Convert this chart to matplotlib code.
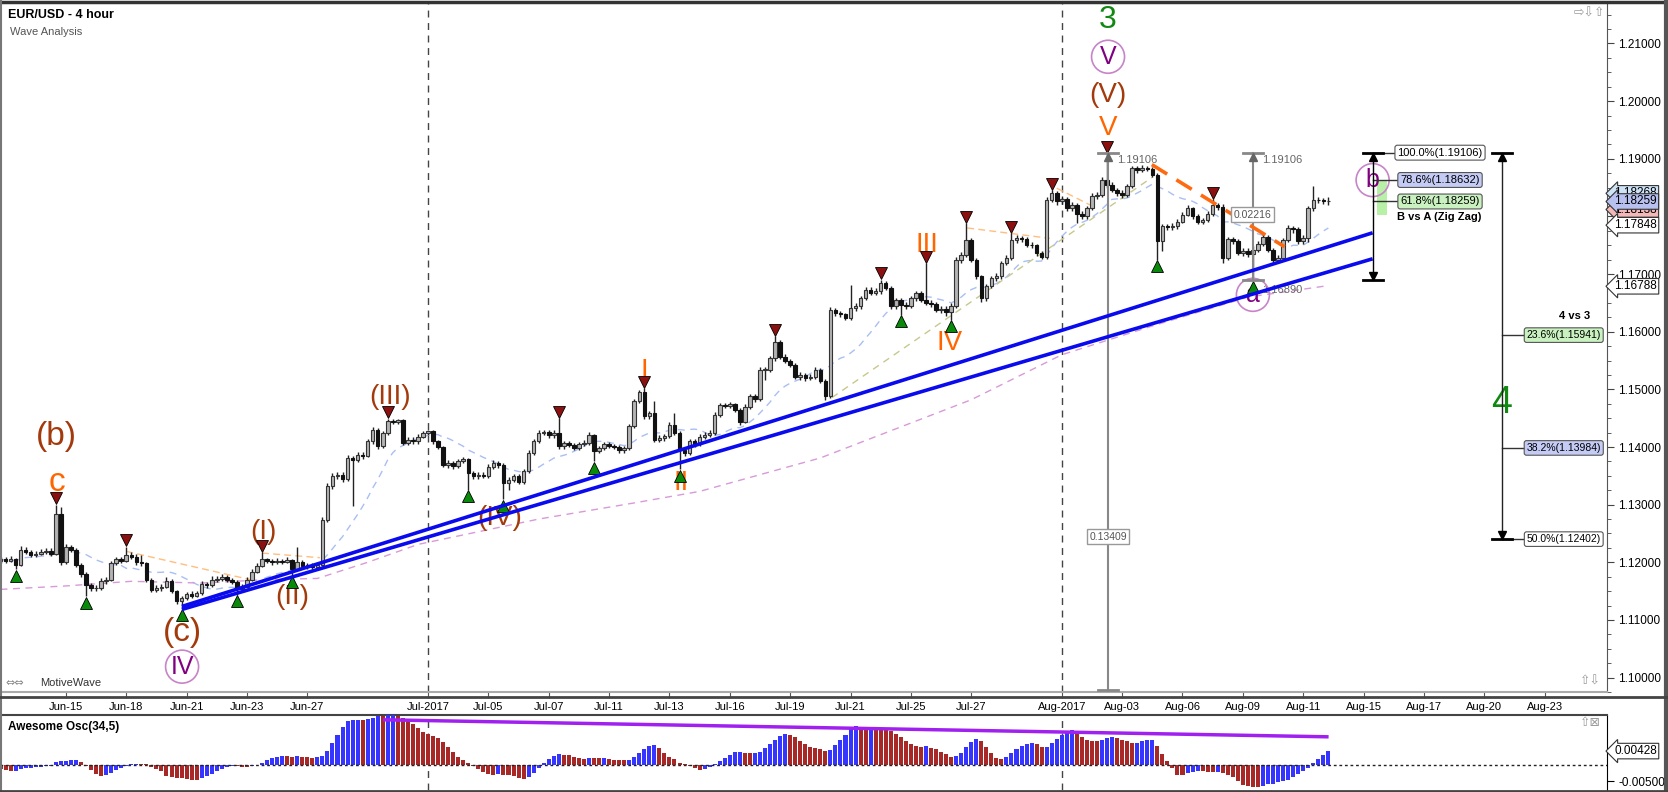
import numpy as np
import pandas as pd
import matplotlib
matplotlib.use("Agg")
import matplotlib.pyplot as plt
from matplotlib.lines import Line2D
from matplotlib.patches import Rectangle

plt.rcParams['font.family'] = ['Liberation Sans', 'DejaVu Sans']

# ----- candles (4 hour bars, 6 bars per trading day) -----
first_bar = 5
open0 = 1.1203
close = [
    1.1205, 1.1203, 1.1206, 1.1195, 1.1222, 1.1218, 1.1212, 1.1215, 1.1218, 1.1220,
    1.1215, 1.1283, 1.1200, 1.1226, 1.1222, 1.1196, 1.1180, 1.1160, 1.1155, 1.1156,
    1.1168, 1.1170, 1.1199, 1.1205, 1.1203, 1.1213, 1.1210, 1.1200, 1.1198, 1.1170,
    1.1152, 1.1155, 1.1158, 1.1168, 1.1150, 1.1132, 1.1138, 1.1145, 1.1142, 1.1146,
    1.1162, 1.1160, 1.1170, 1.1171, 1.1174, 1.1170, 1.1166, 1.1153, 1.1158, 1.1170,
    1.1184, 1.1194, 1.1205, 1.1202, 1.1200, 1.1203, 1.1201, 1.1204, 1.1188, 1.1200,
    1.1193, 1.1195, 1.1192, 1.1196, 1.1274, 1.1332, 1.1349, 1.1352, 1.1344, 1.1381,
    1.1378, 1.1387, 1.1385, 1.1410, 1.1430, 1.1401, 1.1424, 1.1445, 1.1444, 1.1446,
    1.1407, 1.1413, 1.1410, 1.1418, 1.1424, 1.1427, 1.1410, 1.1400, 1.1369, 1.1372,
    1.1367, 1.1376, 1.1379, 1.1355, 1.1349, 1.1352, 1.1350, 1.1366, 1.1372, 1.1369,
    1.1338, 1.1343, 1.1349, 1.1340, 1.1358, 1.1390, 1.1410, 1.1424, 1.1426, 1.1420,
    1.1425, 1.1401, 1.1407, 1.1404, 1.1398, 1.1405, 1.1407, 1.1421, 1.1393, 1.1398,
    1.1405, 1.1402, 1.1400, 1.1394, 1.1398, 1.1436, 1.1480, 1.1495, 1.1453, 1.1459,
    1.1413, 1.1416, 1.1419, 1.1439, 1.1424, 1.1395, 1.1390, 1.1410, 1.1405, 1.1418,
    1.1421, 1.1424, 1.1456, 1.1473, 1.1472, 1.1474, 1.1465, 1.1444, 1.1470, 1.1488,
    1.1483, 1.1534, 1.1534, 1.1554, 1.1583, 1.1557, 1.1549, 1.1543, 1.1522, 1.1525,
    1.1520, 1.1522, 1.1534, 1.1515, 1.1488, 1.1638, 1.1632, 1.1630, 1.1624, 1.1641,
    1.1644, 1.1658, 1.1673, 1.1667, 1.1670, 1.1684, 1.1676, 1.1644, 1.1655, 1.1647,
    1.1645, 1.1658, 1.1667, 1.1655, 1.1650, 1.1648, 1.1638, 1.1640, 1.1635, 1.1645,
    1.1725, 1.1733, 1.1759, 1.1725, 1.1696, 1.1658, 1.1679, 1.1693, 1.1696, 1.1719,
    1.1728, 1.1759, 1.1762, 1.1760, 1.1751, 1.1750, 1.1736, 1.1730, 1.1829, 1.1840,
    1.1826, 1.1830, 1.1814, 1.1820, 1.1805, 1.1800, 1.1814, 1.1835, 1.1838, 1.1863,
    1.1855, 1.1846, 1.1840, 1.1838, 1.1852, 1.1884, 1.1881, 1.1884, 1.1882, 1.1872,
    1.1757, 1.1783, 1.1781, 1.1783, 1.1791, 1.1803, 1.1814, 1.1800, 1.1790, 1.1793,
    1.1805, 1.1820, 1.1817, 1.1728, 1.1760, 1.1757, 1.1737, 1.1740, 1.1735, 1.1742,
    1.1752, 1.1765, 1.1742, 1.1725, 1.1728, 1.1759, 1.1780, 1.1778, 1.1757, 1.1762,
    1.1814, 1.1829, 1.1828, 1.1826, 1.1826,
]
high = [
    1.1210, 1.1209, 1.1211, 1.1208, 1.1228, 1.1226, 1.1221, 1.1219, 1.1223, 1.1225,
    1.1224, 1.1300, 1.1296, 1.1232, 1.1230, 1.1225, 1.1199, 1.1183, 1.1164, 1.1160,
    1.1172, 1.1175, 1.1203, 1.1210, 1.1209, 1.1227, 1.1217, 1.1214, 1.1212, 1.1201,
    1.1172, 1.1160, 1.1163, 1.1174, 1.1171, 1.1152, 1.1142, 1.1149, 1.1150, 1.1151,
    1.1168, 1.1166, 1.1176, 1.1177, 1.1179, 1.1178, 1.1173, 1.1169, 1.1162, 1.1174,
    1.1188, 1.1198, 1.1217, 1.1208, 1.1205, 1.1207, 1.1206, 1.1210, 1.1206, 1.1226,
    1.1204, 1.1199, 1.1199, 1.1201, 1.1278, 1.1338, 1.1355, 1.1357, 1.1356, 1.1386,
    1.1385, 1.1392, 1.1391, 1.1414, 1.1435, 1.1433, 1.1428, 1.1449, 1.1448, 1.1448,
    1.1448, 1.1418, 1.1417, 1.1423, 1.1428, 1.1430, 1.1430, 1.1413, 1.1402, 1.1377,
    1.1376, 1.1380, 1.1383, 1.1381, 1.1359, 1.1357, 1.1356, 1.1370, 1.1377, 1.1376,
    1.1372, 1.1348, 1.1353, 1.1353, 1.1362, 1.1394, 1.1414, 1.1429, 1.1430, 1.1430,
    1.1429, 1.1450, 1.1411, 1.1410, 1.1407, 1.1409, 1.1412, 1.1426, 1.1423, 1.1402,
    1.1409, 1.1408, 1.1406, 1.1403, 1.1402, 1.1440, 1.1484, 1.1499, 1.1502, 1.1463,
    1.1480, 1.1421, 1.1423, 1.1444, 1.1459, 1.1427, 1.1399, 1.1414, 1.1414, 1.1422,
    1.1426, 1.1430, 1.1460, 1.1477, 1.1477, 1.1478, 1.1477, 1.1468, 1.1474, 1.1492,
    1.1492, 1.1538, 1.1539, 1.1558, 1.1592, 1.1586, 1.1561, 1.1553, 1.1546, 1.1530,
    1.1529, 1.1527, 1.1538, 1.1537, 1.1518, 1.1643, 1.1642, 1.1636, 1.1633, 1.1681,
    1.1649, 1.1662, 1.1678, 1.1677, 1.1675, 1.1690, 1.1688, 1.1679, 1.1659, 1.1658,
    1.1651, 1.1662, 1.1671, 1.1670, 1.1719, 1.1655, 1.1652, 1.1645, 1.1644, 1.1650,
    1.1729, 1.1738, 1.1788, 1.1762, 1.1728, 1.1699, 1.1683, 1.1697, 1.1701, 1.1723,
    1.1733, 1.1771, 1.1767, 1.1766, 1.1764, 1.1756, 1.1753, 1.1740, 1.1834, 1.1846,
    1.1844, 1.1836, 1.1833, 1.1825, 1.1823, 1.1809, 1.1818, 1.1840, 1.1843, 1.1868,
    1.1910, 1.1859, 1.1850, 1.1845, 1.1856, 1.1888, 1.1887, 1.1889, 1.1888, 1.1886,
    1.1875, 1.1787, 1.1787, 1.1788, 1.1795, 1.1808, 1.1819, 1.1817, 1.1804, 1.1798,
    1.1810, 1.1830, 1.1824, 1.1821, 1.1765, 1.1764, 1.1760, 1.1746, 1.1746, 1.1748,
    1.1757, 1.1770, 1.1768, 1.1745, 1.1733, 1.1763, 1.1785, 1.1784, 1.1781, 1.1767,
    1.1818, 1.1852, 1.1834, 1.1832, 1.1834,
]
low = [
    1.1199, 1.1198, 1.1200, 1.1188, 1.1193, 1.1214, 1.1209, 1.1210, 1.1212, 1.1215,
    1.1211, 1.1212, 1.1196, 1.1197, 1.1218, 1.1192, 1.1175, 1.1141, 1.1150, 1.1151,
    1.1152, 1.1163, 1.1167, 1.1196, 1.1199, 1.1200, 1.1206, 1.1196, 1.1194, 1.1166,
    1.1148, 1.1149, 1.1151, 1.1155, 1.1146, 1.1128, 1.1120, 1.1135, 1.1138, 1.1139,
    1.1143, 1.1156, 1.1157, 1.1166, 1.1168, 1.1165, 1.1162, 1.1143, 1.1149, 1.1155,
    1.1167, 1.1181, 1.1191, 1.1198, 1.1196, 1.1197, 1.1197, 1.1198, 1.1176, 1.1185,
    1.1189, 1.1189, 1.1188, 1.1189, 1.1193, 1.1270, 1.1328, 1.1344, 1.1340, 1.1341,
    1.1297, 1.1374, 1.1380, 1.1382, 1.1406, 1.1397, 1.1398, 1.1420, 1.1440, 1.1440,
    1.1403, 1.1403, 1.1406, 1.1406, 1.1415, 1.1420, 1.1406, 1.1396, 1.1365, 1.1364,
    1.1362, 1.1363, 1.1372, 1.1326, 1.1344, 1.1345, 1.1346, 1.1347, 1.1362, 1.1364,
    1.1309, 1.1326, 1.1339, 1.1336, 1.1336, 1.1355, 1.1387, 1.1407, 1.1420, 1.1416,
    1.1416, 1.1397, 1.1397, 1.1400, 1.1394, 1.1395, 1.1401, 1.1404, 1.1375, 1.1389,
    1.1395, 1.1398, 1.1396, 1.1390, 1.1390, 1.1395, 1.1433, 1.1476, 1.1449, 1.1448,
    1.1409, 1.1408, 1.1411, 1.1416, 1.1420, 1.1361, 1.1384, 1.1386, 1.1400, 1.1402,
    1.1414, 1.1417, 1.1420, 1.1452, 1.1467, 1.1468, 1.1461, 1.1438, 1.1441, 1.1466,
    1.1478, 1.1480, 1.1517, 1.1530, 1.1550, 1.1553, 1.1545, 1.1539, 1.1518, 1.1517,
    1.1515, 1.1516, 1.1518, 1.1511, 1.1482, 1.1485, 1.1627, 1.1625, 1.1620, 1.1620,
    1.1636, 1.1640, 1.1655, 1.1663, 1.1663, 1.1666, 1.1672, 1.1640, 1.1640, 1.1629,
    1.1640, 1.1641, 1.1654, 1.1651, 1.1646, 1.1643, 1.1634, 1.1633, 1.1627, 1.1621,
    1.1642, 1.1720, 1.1729, 1.1721, 1.1692, 1.1652, 1.1654, 1.1675, 1.1688, 1.1692,
    1.1715, 1.1724, 1.1754, 1.1755, 1.1747, 1.1745, 1.1732, 1.1726, 1.1727, 1.1825,
    1.1820, 1.1821, 1.1810, 1.1810, 1.1788, 1.1795, 1.1796, 1.1811, 1.1830, 1.1834,
    1.1850, 1.1842, 1.1836, 1.1832, 1.1834, 1.1849, 1.1876, 1.1877, 1.1878, 1.1868,
    1.1725, 1.1740, 1.1776, 1.1777, 1.1779, 1.1788, 1.1800, 1.1796, 1.1786, 1.1786,
    1.1790, 1.1801, 1.1812, 1.1720, 1.1724, 1.1752, 1.1733, 1.1732, 1.1730, 1.1689,
    1.1738, 1.1748, 1.1738, 1.1720, 1.1720, 1.1724, 1.1755, 1.1772, 1.1752, 1.1753,
    1.1755, 1.1810, 1.1823, 1.1821, 1.1820,
]

# slow moving average (bar, price)
slow_ma_bar = [5, 18, 31, 45, 58, 68, 78, 88, 112, 131, 144, 168, 198, 216, 234, 253, 269]
slow_ma_val = [1.1153, 1.1159, 1.1167, 1.1164, 1.1170, 1.1172, 1.1200, 1.1231, 1.1275,
               1.1303, 1.1323, 1.1381, 1.1482, 1.1560, 1.1610, 1.1660, 1.1680]

# awesome oscillator values before 34 bars of history exist
ao_head = [
    -0.0012, -0.0017, -0.0019, -0.0018, -0.0012, -0.0010, -0.0008, -0.0007, -0.0005, -0.0004,
    -0.0002, 0.0008, 0.0012, 0.0014, 0.0016, 0.0017, 0.0010, -0.0002, -0.0015, -0.0027,
    -0.0034, -0.0031, -0.0024, -0.0016, -0.0008, -0.0002, 0.0003, 0.0004, 0.0003, 0.0002,
    -0.0005, -0.0012, -0.0020,
]

# x axis: trading day index of each date label (bar = 6 * day)
tick_days = [3, 5, 7, 9, 11, 15, 17, 19, 21, 23, 25, 27, 29, 31, 33, 36, 38, 40, 42, 44, 46, 48, 50, 52]
tick_labels = ['Jun-15', 'Jun-18', 'Jun-21', 'Jun-23', 'Jun-27', 'Jul-2017', 'Jul-05', 'Jul-07',
               'Jul-11', 'Jul-13', 'Jul-16', 'Jul-19', 'Jul-21', 'Jul-25', 'Jul-27', 'Aug-2017',
               'Aug-03', 'Aug-06', 'Aug-09', 'Aug-11', 'Aug-15', 'Aug-17', 'Aug-20', 'Aug-23']
month_days = [15, 36]

# swing markers
red_pivots = [16, 30, 57, 82, 116, 133, 159, 180, 189, 197, 206, 214, 225, 246]
green_pivots = [8, 22, 41, 52, 63, 98, 105, 123, 140, 184, 194, 235, 254]

# wave labels: text, bar, price, colour, size, circled
BROWN = '#a33a0c'
ORANGE = '#ff6600'
PURPLE = '#800080'
GREEN = '#118811'
wave_labels = [
    ('(b)', 16.2, 1.1418, BROWN, 24, False),
    ('c', 16.2, 1.1338, ORANGE, 24, False),
    ('(c)', 41.1, 1.1078, BROWN, 24, False),
    ('IV', 41.1, 1.1019, PURPLE, 18, True),
    ('(I)', 57.2, 1.1252, BROWN, 20, False),
    ('(II)', 63.1, 1.1139, BROWN, 20, False),
    ('(III)', 82.4, 1.1486, BROWN, 20, False),
    ('(IV)', 104.3, 1.1276, BROWN, 20, False),
    ('I', 133.1, 1.1531, ORANGE, 20, False),
    ('II', 140.3, 1.1338, ORANGE, 20, False),
    ('III', 189.2, 1.1751, ORANGE, 20, False),
    ('IV', 193.6, 1.1581, ORANGE, 20, False),
    ('V', 225.2, 1.1953, ORANGE, 20, False),
    ('(V)', 225.2, 1.2011, BROWN, 20, False),
    ('V', 225.2, 1.2077, PURPLE, 18, True),
    ('3', 225.2, 1.2141, GREEN, 23, False),
    ('a', 254.0, 1.1664, PURPLE, 18, True),
    ('b', 277.8, 1.1863, PURPLE, 18, True),
    ('4', 303.5, 1.1477, GREEN, 27, False),
]

# trend lines (bar, price) pairs
blue_lines = [((41.06, 1.11234), (277.8, 1.17716)),
              ((41.06, 1.11182), (277.8, 1.17265))]
orange_line = ((233.9, 1.18899), (260.3, 1.17473))
khaki_line = ((170.3, 1.14857), (234.1, 1.18686))
peach_lines = [((30, 1.1219), (54.6, 1.1170)), ((57, 1.1216), (68.5, 1.1208)),
               ((197.2, 1.1780), (213.6, 1.1762)), ((215, 1.1849), (221.6, 1.1820))]

# measuring tools
top_v = 1.19106
low_a = 1.16890
range1_bar, range1_low, range1_txt = 225.2, 1.05697, '0.13409'
range2_bar, range2_txt = 254.0, '0.02216'
fib_b_bar = 277.8
fib_b_levels = [('100.0%(1.19106)', 1.19106, '#ffffff'),
                ('78.6%(1.18632)', 1.18632, '#c4cbf5'),
                ('61.8%(1.18259)', 1.18259, '#c9f2c0')]
fib_4_bar = 303.5
fib_4_levels = [('23.6%(1.15941)', 1.15941, '#c9f2c0'),
                ('38.2%(1.13984)', 1.13984, '#c4cbf5'),
                ('50.0%(1.12402)', 1.12402, '#ffffff')]

# price boxes on the right axis: text, drawn height, fill (stacked as the platform does)
price_boxes = [('1.18268', 1.18400, '#cfe3f7'), ('1.18138', 1.18120, '#f3b8b8'),
               ('1.18259', 1.18259, '#b8c0f0'), ('1.17848', 1.17848, '#ffffff'),
               ('1.16788', 1.16788, '#ffffff')]
ao_last_txt = '0.00428'
ao_div = ((81.4, 0.0141), (268.7, 0.0088))

# ----- figure layout (pixel boxes) -----
W, H = 1668, 792
fig = plt.figure(figsize=(W / 100, H / 100), dpi=100)


def px_rect(x0, y0, x1, y1):
    return [x0 / W, 1 - y1 / H, (x1 - x0) / W, (y1 - y0) / H]


ax = fig.add_axes(px_rect(0, 4, 1607, 692))
ao_ax = fig.add_axes(px_rect(0, 715, 1607, 790))
xlim = (4.9, 324.4)

# -----candles-----
bars = np.arange(first_bar, first_bar + len(close))
c = np.array(close)
h = np.array(high)
l = np.array(low)
o = np.concatenate([[open0], c[:-1]])
up = c >= o
body_lo = np.minimum(o, c)
body_h = np.maximum(np.abs(c - o), 0.00006)
ax.vlines(bars, l, h, color='#222222', lw=1, zorder=3)
ax.bar(bars[up], body_h[up], bottom=body_lo[up], width=0.7, color='#b4b4b4',
       edgecolor='#333333', lw=0.8, zorder=4)
ax.bar(bars[~up], body_h[~up], bottom=body_lo[~up], width=0.7, color='#111111',
       edgecolor='#111111', lw=0.8, zorder=4)

# moving averages
fast_ma = pd.Series(close).rolling(14, min_periods=1).mean()
ax.plot(bars, fast_ma, color='#a9bff3', lw=1, ls=(0, (5, 4)), zorder=2)
ax.plot(slow_ma_bar, slow_ma_val, color='#d89ad8', lw=1, ls=(0, (5, 4)), zorder=2)

# swing markers
rp = np.array(red_pivots) - first_bar
gp = np.array(green_pivots) - first_bar
ax.plot(bars[rp], h[rp] + 0.0011, 'v', ms=9, mfc='#8b1010', mec='black', mew=0.6, zorder=6)
ax.plot(bars[gp], l[gp] - 0.0011, '^', ms=9, mfc='#0a8a0a', mec='black', mew=0.6, zorder=6)

# lines
for (x0, y0), (x1, y1) in peach_lines:
    ax.plot([x0, x1], [y0, y1], color='#ffbe80', lw=1, ls=(0, (5, 3)), zorder=2)
ax.plot(*zip(*khaki_line), color='#c8c88c', lw=1, ls=(0, (5, 4)), zorder=2)
for seg in blue_lines:
    ax.plot(*zip(*seg), color='#0a0aee', lw=2.6, zorder=7, solid_capstyle='butt')
ax.plot(*zip(*orange_line), color='#ff6a10', lw=2.6, ls=(0, (5, 3)), zorder=7)

# month separators
for d in month_days:
    ax.axvline(6 * d, color='#444444', lw=1, ls=(0, (5, 4)), zorder=1)
    ao_ax.axvline(6 * d, color='#444444', lw=1, ls=(0, (5, 4)), zorder=1)

# wave labels
for txt, x, y, col, size, circled in wave_labels:
    kw = {}
    if circled:
        kw['bbox'] = dict(boxstyle='circle,pad=0.18', fc='none', ec='#c784c8', lw=1.2)
    ax.text(x, y, txt, color=col, fontsize=size, ha='center', va='center', zorder=5, **kw)

# -----measuring tools-----
GRAY = '#888888'
ax.plot([range1_bar, range1_bar], [top_v, range1_low], color=GRAY, lw=1.5, zorder=6)
ax.plot([range1_bar - 2, range1_bar + 2], [top_v, top_v], color=GRAY, lw=2, zorder=6)
ax.plot([range1_bar - 2, range1_bar + 2], [1.0979, 1.0979], color=GRAY, lw=2, zorder=6)
ax.plot(range1_bar, top_v - 0.0008, '^', ms=6, color='#666666', zorder=6)
ax.text(range1_bar + 1.8, top_v - 0.0012, '%.5f' % top_v, color='#666666', fontsize=8, va='center')
ax.text(range1_bar, 1.12447, range1_txt, color='#555555', fontsize=7.5, ha='center', va='center',
        zorder=8, bbox=dict(boxstyle='square,pad=0.25', fc='white', ec='#999999', lw=1))

ax.plot([range2_bar, range2_bar], [top_v, low_a], color=GRAY, lw=1.5, zorder=6)
for lev in (top_v, low_a):
    ax.plot([range2_bar - 2, range2_bar + 2], [lev, lev], color=GRAY, lw=2, zorder=6)
ax.plot(range2_bar, top_v - 0.0008, '^', ms=6, color='#666666', zorder=6)
ax.text(range2_bar + 1.8, top_v - 0.0012, '%.5f' % top_v, color='#666666', fontsize=8, va='center')
ax.text(range2_bar + 1.8, low_a - 0.0016, '%.5f' % low_a, color='#666666', fontsize=8, va='center')
ax.text(range2_bar, 1.18028, range2_txt, color='#555555', fontsize=7.5, ha='center', va='center',
        zorder=8, bbox=dict(boxstyle='square,pad=0.25', fc='white', ec='#999999', lw=1))

# b vs A
ax.add_patch(Rectangle((278.6, 1.1803), 2.0, 1.18632 - 1.1803, fc='#b8f0a8', ec='none', zorder=3))
ax.plot([fib_b_bar, fib_b_bar], [top_v, low_a], color='black', lw=1, zorder=6)
for lev in (top_v, low_a):
    ax.plot([fib_b_bar - 2, fib_b_bar + 2], [lev, lev], color='black', lw=2, zorder=6)
ax.plot(fib_b_bar, top_v - 0.0008, '^', ms=6, color='black', zorder=6)
ax.plot(fib_b_bar, low_a + 0.0008, 'v', ms=6, color='black', zorder=6)
for txt, lev, fc in fib_b_levels:
    ax.plot([fib_b_bar, 284.2], [lev, lev], color='#333333', lw=1, zorder=5)
    ax.text(291.2, lev, txt, fontsize=8, ha='center', va='center', zorder=8,
            bbox=dict(boxstyle='round,pad=0.22', fc=fc, ec='#555555', lw=0.8))
ax.text(291.0, 1.17990, 'B vs A (Zig Zag)', fontsize=8, weight='bold', ha='center', va='center')

# 4 vs 3
bot_4 = fib_4_levels[-1][1]
ax.plot([fib_4_bar, fib_4_bar], [top_v, bot_4], color='#222222', lw=1, zorder=6)
for lev in (top_v, bot_4):
    ax.plot([fib_4_bar - 2, fib_4_bar + 2], [lev, lev], color='black', lw=2, zorder=6)
ax.plot(fib_4_bar, top_v - 0.0008, '^', ms=6, color='black', zorder=6)
ax.plot(fib_4_bar, bot_4 + 0.0008, 'v', ms=6, color='black', zorder=6)
for txt, lev, fc in fib_4_levels:
    ax.plot([fib_4_bar, 308.7], [lev, lev], color='#333333', lw=1, zorder=5)
    ax.text(315.8, lev, txt, fontsize=7.5, ha='center', va='center', zorder=8,
            bbox=dict(boxstyle='round,pad=0.22', fc=fc, ec='#555555', lw=0.8))
ax.text(318.0, 1.1627, '4 vs 3', fontsize=8, weight='bold', ha='center', va='center')

# -----axes styling-----
ax.set_xlim(*xlim)
ax.set_ylim(1.09761, 1.21685)
yt = np.round(np.arange(1.10, 1.2101, 0.01), 2)
ax.yaxis.tick_right()
ax.set_yticks(yt)
ax.set_yticklabels(['' if abs(v - 1.18) < 1e-6 else '%.5f' % v for v in yt])
ax.set_yticks(np.arange(1.0975, 1.2169, 0.0025), minor=True)
ax.tick_params(axis='y', which='major', length=5, labelsize=8.5, pad=3, color='#444444')
ax.tick_params(axis='y', which='minor', length=3, color='#444444')
ax.set_xticks([6 * d for d in tick_days])
ax.set_xticklabels(tick_labels)
ax.tick_params(axis='x', direction='out', length=4, labelsize=8, pad=3, color='#555555')
ax.spines['top'].set_visible(False)
ax.spines['left'].set_color('#888888')
ax.spines['left'].set_linewidth(2)
ax.spines['right'].set_color('#555555')
ax.spines['bottom'].set_color('#aaaaaa')
ax.spines['bottom'].set_linewidth(1.5)

for txt, v, fc in price_boxes:
    ax.text(1.0045, v, txt, transform=ax.get_yaxis_transform(), fontsize=8.5, ha='left',
            va='center', zorder=10, clip_on=False,
            bbox=dict(boxstyle='larrow,pad=0.15', fc=fc, ec='#333333', lw=0.8))

# -----awesome oscillator-----
median = (pd.Series(high) + pd.Series(low)) / 2
ao = (median.rolling(5).mean() - median.rolling(34).mean()).to_numpy()
ao[:len(ao_head)] = ao_head
ao_col = ['#a82828'] + ['#3535ff' if ao[i] >= ao[i - 1] else '#a82828' for i in range(1, len(ao))]
ao_ax.bar(bars, ao, width=0.8, color=ao_col, zorder=3)
ao_ax.axhline(0, color='#222222', lw=1, ls=(0, (2, 2)), zorder=4)
ao_ax.plot(*zip(*ao_div), color='#a020f0', lw=2.5, zorder=5)
ao_ax.set_xlim(*xlim)
ao_ax.set_ylim(-0.0078, 0.0156)
ao_ax.set_xticks([])
ao_ax.yaxis.tick_right()
ao_ax.set_yticks([-0.005])
ao_ax.set_yticklabels(['-0.00500'])
ao_ax.tick_params(axis='y', length=5, labelsize=8.5, pad=3)
ao_ax.spines['top'].set_color('#444444')
ao_ax.spines['top'].set_linewidth(1.5)
ao_ax.spines['bottom'].set_visible(False)
ao_ax.spines['left'].set_color('#888888')
ao_ax.spines['left'].set_linewidth(2)
ao_ax.text(1.0045, ao[-1], ao_last_txt, transform=ao_ax.get_yaxis_transform(), fontsize=8.5,
           ha='left', va='center', zorder=10, clip_on=False,
           bbox=dict(boxstyle='larrow,pad=0.15', fc='white', ec='#333333', lw=0.8))
ao_ax.text(0.005, 0.84, 'Awesome Osc(34,5)', transform=ao_ax.transAxes, fontsize=8.5,
           weight='bold', va='center')

# -----frame and header-----
frame = [(0, 1.5, W, 1.5, '#333333', 2.5), (1, 0, 1, H, '#777777', 1.5),
         (1665.5, 0, 1665.5, H, '#555555', 3), (0, 697, W, 697, '#444444', 2),
         (0, 791, W, 791, '#444444', 2)]
for x0, y0, x1, y1, col, lw in frame:
    fig.add_artist(Line2D([x0 / W, x1 / W], [1 - y0 / H, 1 - y1 / H], color=col, lw=lw))

fig.text(8 / W, 1 - 15 / H, 'EUR/USD - 4 hour', fontsize=9, weight='bold', va='center')
fig.text(10 / W, 1 - 32 / H, 'Wave Analysis', fontsize=8, color='#555555', va='center')
fig.text(5 / W, 1 - 683 / H, '⇔⇔', fontsize=8, color='#888888', va='center', family='DejaVu Sans')
fig.text(40 / W, 1 - 683 / H, 'MotiveWave', fontsize=8, color='#333333', va='center')
fig.text(1574 / W, 1 - 13 / H, '⇨⇩⇧', fontsize=9, color='#999999', va='center', family='DejaVu Sans')
fig.text(1580 / W, 1 - 681 / H, '⇧⇩', fontsize=9, color='#999999', va='center', family='DejaVu Sans')
fig.text(1580 / W, 1 - 722 / H, '⇧⊠', fontsize=9, color='#999999', va='center', family='DejaVu Sans')

fig.savefig('out.png', dpi=100)
